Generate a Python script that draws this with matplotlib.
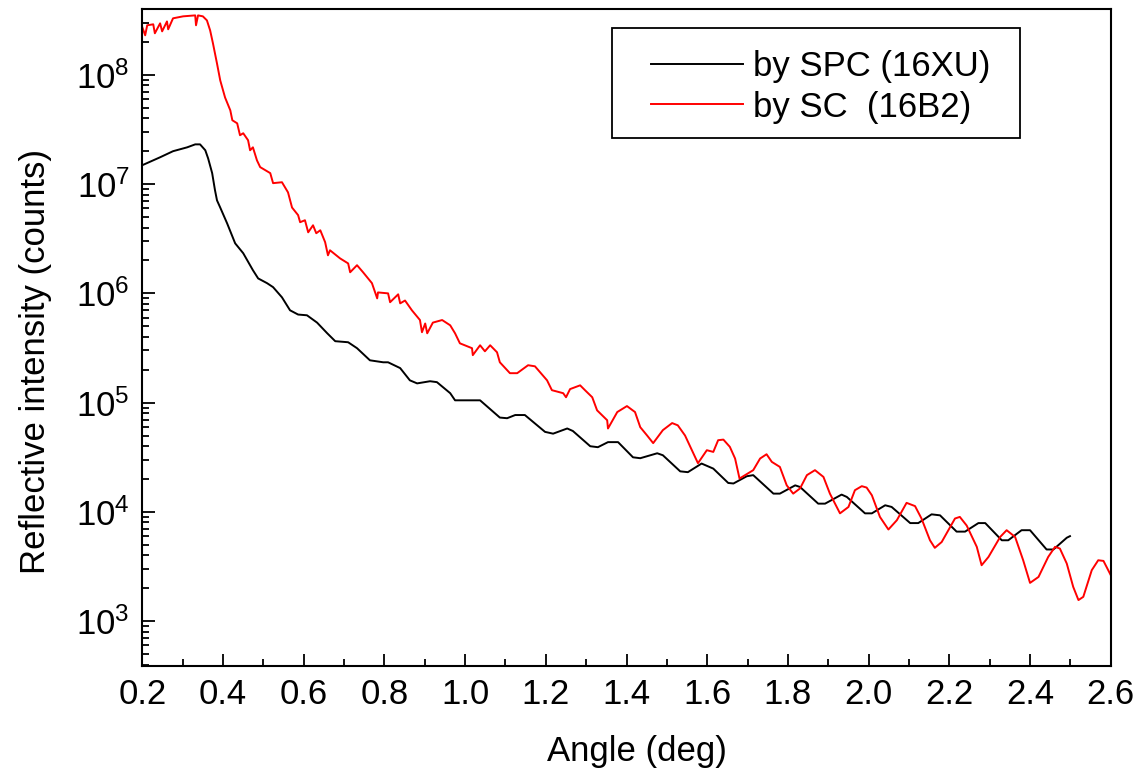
import matplotlib
matplotlib.use("Agg")
import matplotlib.pyplot as plt
from matplotlib.patches import Rectangle
from matplotlib.ticker import MultipleLocator, LogLocator, NullFormatter

plt.rcParams["font.family"] = ["Liberation Sans", "DejaVu Sans"]
plt.rcParams["mathtext.fontset"] = "custom"
plt.rcParams["mathtext.rm"] = "Liberation Sans"
plt.rcParams["mathtext.it"] = "Liberation Sans"

# Reflectivity measured with the SPC detector (beamline 16XU)
spc_angle = [0.200, 0.244, 0.276, 0.311, 0.331, 0.343, 0.356, 0.363, 0.373, 0.380,
             0.385, 0.393, 0.410, 0.430, 0.450, 0.474, 0.487, 0.509, 0.524, 0.546,
             0.566, 0.586, 0.608, 0.633, 0.658, 0.678, 0.710, 0.732, 0.764, 0.797,
             0.809, 0.839, 0.863, 0.881, 0.913, 0.930, 0.963, 0.975, 1.012, 1.037,
             1.086, 1.104, 1.124, 1.148, 1.198, 1.218, 1.253, 1.267, 1.310, 1.329,
             1.354, 1.379, 1.416, 1.434, 1.476, 1.490, 1.533, 1.552, 1.586, 1.615,
             1.652, 1.665, 1.698, 1.714, 1.764, 1.780, 1.818, 1.830, 1.875, 1.892,
             1.933, 1.946, 1.991, 2.008, 2.041, 2.057, 2.103, 2.123, 2.156, 2.177,
             2.218, 2.239, 2.272, 2.289, 2.330, 2.346, 2.379, 2.400, 2.441, 2.458,
             2.491, 2.499]
spc_counts = [1.49e7, 1.76e7, 2.00e7, 2.17e7, 2.31e7, 2.31e7, 2.04e7, 1.72e7, 1.26e7, 8.8e6,
              7.1e6, 6.1e6, 4.38e6, 2.87e6, 2.33e6, 1.63e6, 1.37e6, 1.24e6, 1.14e6, 9.2e5,
              7.0e5, 6.4e5, 6.3e5, 5.4e5, 4.32e5, 3.65e5, 3.57e5, 3.15e5, 2.44e5, 2.34e5,
              2.34e5, 2.07e5, 1.60e5, 1.50e5, 1.57e5, 1.54e5, 1.22e5, 1.05e5, 1.05e5, 1.05e5,
              7.3e4, 7.2e4, 7.7e4, 7.7e4, 5.4e4, 5.2e4, 5.8e4, 5.5e4, 3.99e4, 3.91e4,
              4.35e4, 4.35e4, 3.16e4, 3.10e4, 3.44e4, 3.30e4, 2.35e4, 2.31e4, 2.77e4, 2.49e4,
              1.84e4, 1.82e4, 2.12e4, 2.17e4, 1.47e4, 1.47e4, 1.75e4, 1.69e4, 1.19e4, 1.19e4,
              1.44e4, 1.37e4, 9.7e3, 9.7e3, 1.15e4, 1.11e4, 7.9e3, 7.9e3, 9.5e3, 9.3e3,
              6.6e3, 6.6e3, 7.9e3, 7.9e3, 5.5e3, 5.5e3, 6.8e3, 6.8e3, 4.53e3, 4.53e3,
              5.8e3, 6.0e3]

# Reflectivity measured with the scintillation counter (beamline 16B2)
sc_angle = [0.200, 0.207, 0.212, 0.227, 0.231, 0.244, 0.249, 0.261, 0.264, 0.276,
            0.301, 0.331, 0.333, 0.338, 0.350, 0.360, 0.368, 0.375, 0.385, 0.393,
            0.405, 0.418, 0.423, 0.435, 0.442, 0.450, 0.462, 0.467, 0.474, 0.484,
            0.492, 0.517, 0.524, 0.546, 0.561, 0.571, 0.586, 0.591, 0.603, 0.611,
            0.623, 0.631, 0.641, 0.653, 0.660, 0.665, 0.690, 0.710, 0.715, 0.732,
            0.747, 0.769, 0.782, 0.784, 0.809, 0.814, 0.834, 0.839, 0.851, 0.868,
            0.888, 0.893, 0.901, 0.906, 0.920, 0.943, 0.963, 0.975, 0.987, 1.017,
            1.019, 1.037, 1.049, 1.062, 1.079, 1.086, 1.111, 1.129, 1.156, 1.173,
            1.203, 1.215, 1.243, 1.250, 1.260, 1.285, 1.297, 1.315, 1.327, 1.352,
            1.354, 1.377, 1.401, 1.421, 1.434, 1.451, 1.466, 1.490, 1.513, 1.527,
            1.545, 1.562, 1.577, 1.599, 1.615, 1.627, 1.640, 1.656, 1.669, 1.680,
            1.694, 1.714, 1.731, 1.747, 1.760, 1.780, 1.797, 1.813, 1.830, 1.847,
            1.867, 1.888, 1.904, 1.929, 1.950, 1.966, 1.983, 1.995, 2.008, 2.028,
            2.049, 2.070, 2.094, 2.115, 2.131, 2.152, 2.164, 2.181, 2.214, 2.226,
            2.243, 2.268, 2.280, 2.297, 2.326, 2.342, 2.363, 2.383, 2.400, 2.421,
            2.445, 2.462, 2.474, 2.491, 2.507, 2.520, 2.532, 2.553, 2.569, 2.582,
            2.600]
sc_counts = [2.72e8, 2.30e8, 2.84e8, 2.90e8, 2.40e8, 2.96e8, 2.50e8, 3.08e8, 2.61e8, 3.29e8,
             3.43e8, 3.50e8, 2.84e8, 3.50e8, 3.43e8, 3.15e8, 2.55e8, 1.94e8, 1.27e8, 8.9e7,
             6.2e7, 4.73e7, 3.84e7, 3.60e7, 2.80e7, 2.92e7, 2.52e7, 2.04e7, 2.17e7, 1.65e7,
             1.43e7, 1.26e7, 1.02e7, 1.04e7, 8.4e6, 6.1e6, 5.2e6, 4.48e6, 4.67e6, 3.62e6,
             4.20e6, 3.55e6, 3.78e6, 2.94e6, 2.23e6, 2.48e6, 2.09e6, 1.88e6, 1.56e6, 1.81e6,
             1.56e6, 1.24e6, 9.0e5, 1.02e6, 1.00e6, 8.3e5, 9.8e5, 8.1e5, 8.6e5, 7.0e5,
             5.7e5, 4.41e5, 5.3e5, 4.31e5, 5.4e5, 5.7e5, 5.1e5, 4.31e5, 3.49e5, 3.15e5,
             2.72e5, 3.35e5, 2.95e5, 3.35e5, 2.89e5, 2.34e5, 1.86e5, 1.86e5, 2.20e5, 2.15e5,
             1.60e5, 1.30e5, 1.22e5, 1.12e5, 1.33e5, 1.44e5, 1.30e5, 1.12e5, 8.5e4, 6.9e4,
             5.8e4, 8.2e4, 9.3e4, 8.2e4, 5.96e4, 5.0e4, 4.26e4, 5.6e4, 6.5e4, 6.2e4,
             5.0e4, 3.67e4, 2.79e4, 3.67e4, 3.54e4, 4.53e4, 4.59e4, 3.94e4, 3.08e4, 2.02e4,
             2.17e4, 2.41e4, 3.08e4, 3.37e4, 2.87e4, 2.58e4, 1.75e4, 1.47e4, 1.64e4, 2.17e4,
             2.41e4, 2.09e4, 1.47e4, 9.7e3, 1.11e4, 1.58e4, 1.72e4, 1.67e4, 1.42e4, 9.0e3,
             6.9e3, 8.4e3, 1.21e4, 1.13e4, 8.7e3, 5.5e3, 4.69e3, 5.3e3, 8.7e3, 9.0e3,
             7.5e3, 4.79e3, 3.25e3, 3.87e3, 5.9e3, 6.8e3, 5.9e3, 3.61e3, 2.24e3, 2.54e3,
             3.87e3, 4.79e3, 4.62e3, 3.37e3, 2.06e3, 1.56e3, 1.67e3, 2.93e3, 3.61e3, 3.56e3,
             2.64e3]

series_labels = ["by SPC (16XU)", "by SC  (16B2)"]
x_ticks = [0.2, 0.4, 0.6, 0.8, 1.0, 1.2, 1.4, 1.6, 1.8, 2.0, 2.2, 2.4, 2.6]
y_ticks = [1e3, 1e4, 1e5, 1e6, 1e7, 1e8]

fig = plt.figure(figsize=(11.37, 7.79), dpi=100)
ax = fig.add_axes([0.1252, 0.1451, 0.8517, 0.8430])

ax.plot(spc_angle, spc_counts, color="black", lw=1.4, label=series_labels[0])
ax.plot(sc_angle, sc_counts, color="#ff0000", lw=1.4, label=series_labels[1])

ax.set_yscale("log")
ax.set_xlim(0.2, 2.6)
ax.set_ylim(10 ** 2.59, 10 ** 8.6)
ax.set_xticks(x_ticks)
ax.set_xticklabels([f"{t:.1f}" for t in x_ticks])
ax.xaxis.set_minor_locator(MultipleLocator(0.1))
ax.set_yticks(y_ticks)
ax.yaxis.set_minor_locator(LogLocator(base=10, subs=range(2, 10), numticks=20))
ax.yaxis.set_minor_formatter(NullFormatter())

ax.tick_params(which="both", direction="in", top=False, right=False, width=1.3)
ax.tick_params(which="major", length=9, labelsize=25, pad=9)
ax.tick_params(which="minor", length=5)
for spine in ax.spines.values():
    spine.set_linewidth(1.5)

ax.set_xlabel("Angle (deg)", fontsize=25)
ax.set_ylabel("Reflective intensity (counts)", fontsize=25)
ax.xaxis.set_label_coords(0.511, -0.105)
ax.yaxis.set_label_coords(-0.093, 0.463)

# Legend box drawn separately so the padding matches the original
ax.add_patch(Rectangle((0.485, 0.804), 0.421, 0.1675, transform=ax.transAxes,
                       fill=False, edgecolor="black", lw=1.3, zorder=5))
ax.legend(loc="upper left", bbox_to_anchor=(0.525, 0.938), frameon=False,
          fontsize=25, handlelength=2.65, handletextpad=0.3, labelspacing=0.22,
          borderpad=0, borderaxespad=0)

fig.savefig("out.png", dpi=100)
